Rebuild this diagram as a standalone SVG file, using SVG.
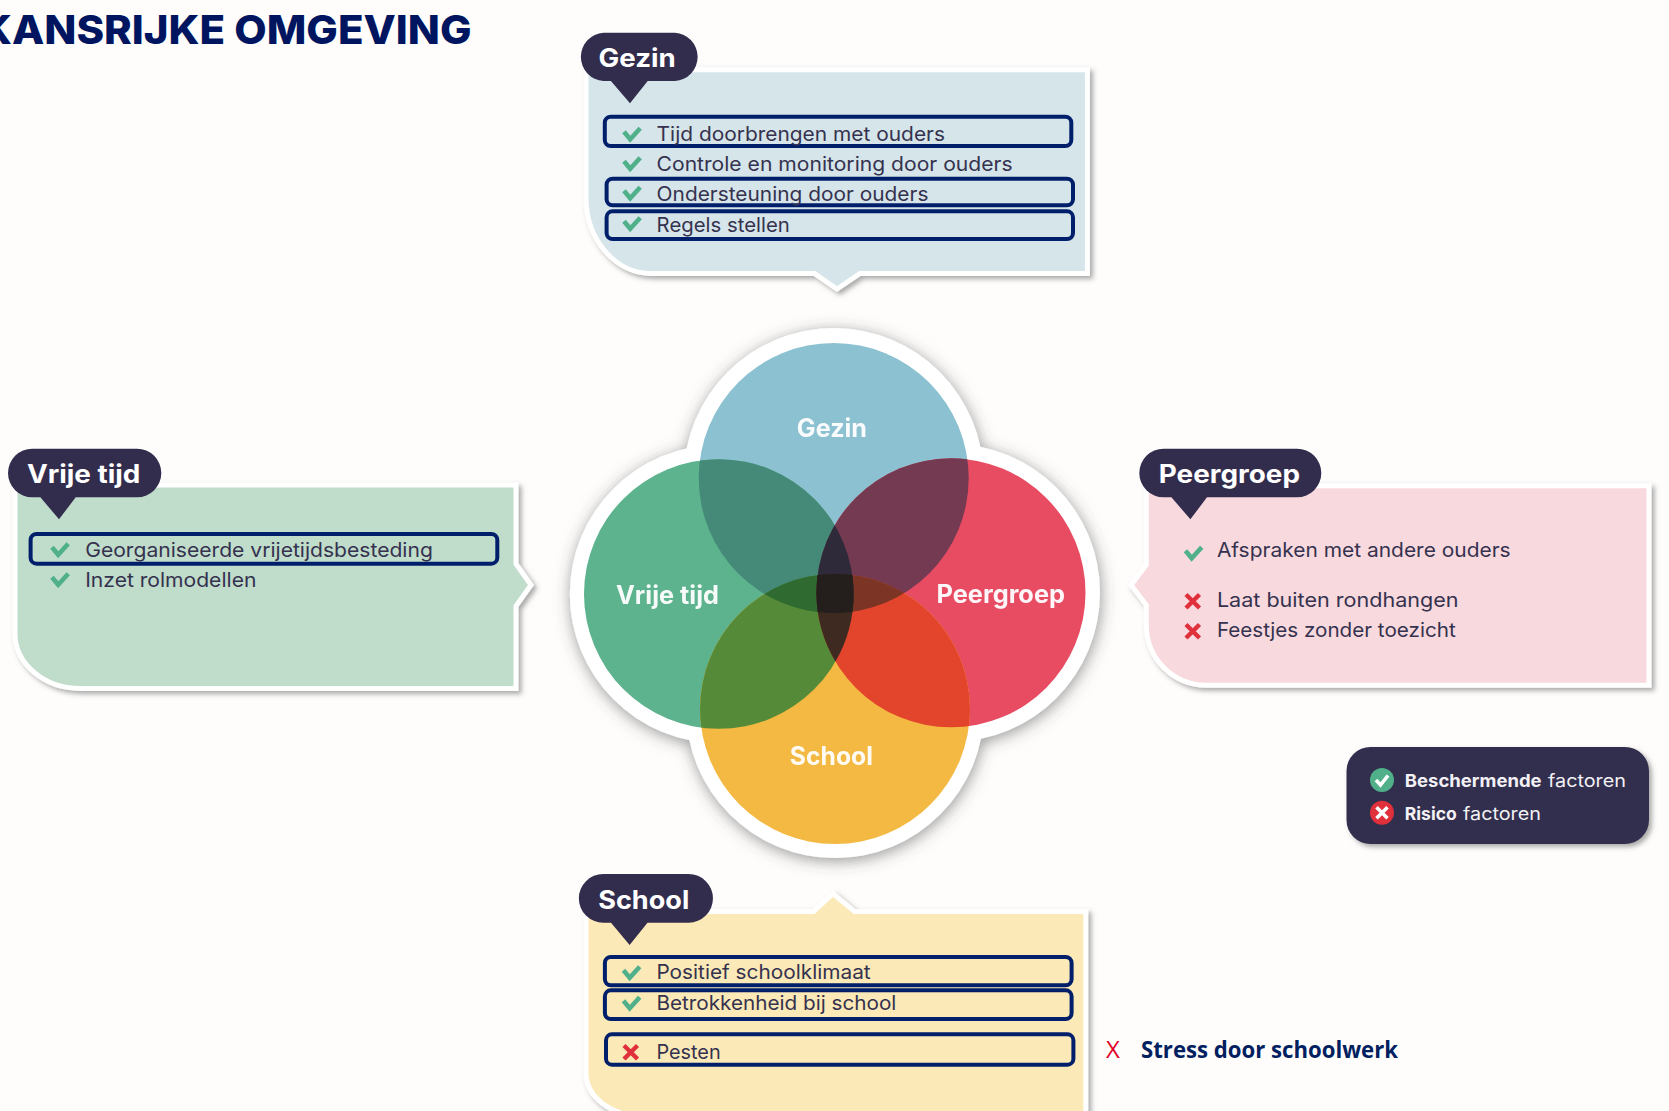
<svg xmlns="http://www.w3.org/2000/svg" width="1669" height="1111" viewBox="0 0 1669 1111">
<style>
text{font-family:Inter,"Noto Sans","Liberation Sans",sans-serif}
.panel{stroke:#fff;stroke-width:5;stroke-linejoin:miter;filter:url(#sh)}
.tag{fill:#332d4d}
.tagt{fill:#fff;font-size:25px;font-weight:700}
.row{fill:#35324f;font-size:20px;font-weight:400}
.box{fill:none;stroke:#001f6b;stroke-width:4}
.vl{fill:#fff;font-size:25px;font-weight:700;opacity:.95}
.chk{fill:none;stroke:#4fb08a;stroke-width:4.6}
.xx{fill:none;stroke:#e0303c;stroke-width:4.4}
.lg{fill:#f2f1f5;font-size:17.5px}
</style>
<defs>
<filter id="sh" x="-10%" y="-10%" width="120%" height="120%"><feDropShadow dx="3" dy="3" stdDeviation="2.8" flood-color="#555" flood-opacity=".5"/></filter>
<filter id="shc" x="-10%" y="-10%" width="120%" height="120%"><feDropShadow dx="1" dy="3" stdDeviation="8" flood-color="#444" flood-opacity=".55"/></filter>
<path id="chk" class="chk" d="M1,4.2 L7.2,11.7 L17.2,0.8"/>
<path id="xm" class="xx" d="M1.5,1.5 L15,15 M15,1.5 L1.5,15"/>
<circle id="cg" cx="833.7" cy="478" r="135"/>
<circle id="cp" cx="951" cy="592.8" r="134.5"/>
<circle id="cv" cx="718.8" cy="594" r="134.8"/>
<circle id="cs" cx="835" cy="709" r="135"/>
<clipPath id="G"><use href="#cg"/></clipPath>
<clipPath id="V"><use href="#cv"/></clipPath>
<clipPath id="P"><use href="#cp"/></clipPath>
<clipPath id="GV" clip-path="url(#G)"><use href="#cv"/></clipPath>
<clipPath id="GP" clip-path="url(#G)"><use href="#cp"/></clipPath>
<clipPath id="VP" clip-path="url(#V)"><use href="#cp"/></clipPath>
<clipPath id="GVP" clip-path="url(#GV)"><use href="#cp"/></clipPath>
</defs>
<rect width="1669" height="1111" fill="#fefdfc"/>
<text x="-19" y="43.5" font-size="40" font-weight="800" fill="#001560" textLength="490.5" lengthAdjust="spacingAndGlyphs">KANSRIJKE OMGEVING</text>

<g id="venn">
<g filter="url(#shc)" fill="#fff">
<circle cx="833.7" cy="478" r="150"/><circle cx="951" cy="592.8" r="149"/><circle cx="718.8" cy="594" r="149"/><circle cx="835" cy="709" r="149"/>
</g>
<use href="#cg" fill="#8bc1d0"/>
<use href="#cp" fill="#e74c63"/>
<use href="#cv" fill="#5cb38d"/>
<use href="#cs" fill="#f4b942"/>
<use href="#cv" clip-path="url(#G)" fill="#458a78"/>
<use href="#cp" clip-path="url(#G)" fill="#733a52"/>
<use href="#cs" clip-path="url(#V)" fill="#558a38"/>
<use href="#cs" clip-path="url(#P)" fill="#e3442c"/>
<use href="#cs" clip-path="url(#GV)" fill="#2f6a30"/>
<use href="#cs" clip-path="url(#GP)" fill="#7c3524"/>
<use href="#cp" clip-path="url(#GV)" fill="#2e2a3a"/>
<use href="#cs" clip-path="url(#VP)" fill="#3e2a20"/>
<use href="#cs" clip-path="url(#GVP)" fill="#241f1c"/>
<text class="vl" x="796.8" y="436.8" textLength="70.2" lengthAdjust="spacingAndGlyphs">Gezin</text>
<text class="vl" x="616" y="603.6" textLength="103" lengthAdjust="spacingAndGlyphs">Vrije tijd</text>
<text class="vl" x="936.5" y="602.8" textLength="128.5" lengthAdjust="spacingAndGlyphs">Peergroep</text>
<text class="vl" x="789.8" y="765" textLength="83.2" lengthAdjust="spacingAndGlyphs">School</text>
</g>

<g id="gezin">
<path class="panel" fill="#d5e5ea" d="M586,69.7 H1087.4 V273.4 H860 L837,289 L814.4,273.4 H651 A65,76 0 0 1 586,197 Z"/>
<path class="tag" d="M603.5,32.7 H675 A24.2,24.2 0 0 1 675,81 H647.7 L630,103.3 L610.9,81 H603.5 A24.2,24.2 0 0 1 603.5,32.7 Z"/>
<text class="tagt" x="598.6" y="66.7" textLength="77.2" lengthAdjust="spacingAndGlyphs">Gezin</text>
<rect class="box" x="604.8" y="116.7" width="466.5" height="29.3" rx="6"/>
<rect class="box" x="606.6" y="178.7" width="466.4" height="26.6" rx="6"/>
<rect class="box" x="606.6" y="211.3" width="466.4" height="27.7" rx="6"/>
<use href="#chk" x="623" y="127.5"/><use href="#chk" x="623" y="157"/><use href="#chk" x="623" y="186.5"/><use href="#chk" x="623" y="217"/>
<text class="row" x="656.6" y="140.7" textLength="288.4" lengthAdjust="spacingAndGlyphs">Tijd doorbrengen met ouders</text>
<text class="row" x="656.6" y="171.3" textLength="356" lengthAdjust="spacingAndGlyphs">Controle en monitoring door ouders</text>
<text class="row" x="656.6" y="201.3" textLength="271.8" lengthAdjust="spacingAndGlyphs">Ondersteuning door ouders</text>
<text class="row" x="656.6" y="231.7" textLength="133.2" lengthAdjust="spacingAndGlyphs">Regels stellen</text>
</g>

<g id="vrije-tijd">
<path class="panel" fill="#c0dccb" d="M15,485 H516 V564 L531,585 L516,606 V688.5 H80 A65,55 0 0 1 15,633 Z"/>
<path class="tag" d="M32.3,448.7 H137 A24.3,24.3 0 0 1 137,497.3 H75.7 L59,519.3 L40.4,497.3 H32.3 A24.3,24.3 0 0 1 32.3,448.7 Z"/>
<text class="tagt" x="26.9" y="482.7" textLength="113.5" lengthAdjust="spacingAndGlyphs">Vrije tijd</text>
<rect class="box" x="30.6" y="534" width="466.7" height="29.7" rx="6"/>
<use href="#chk" x="51" y="543"/><use href="#chk" x="51" y="573"/>
<text class="row" x="85.2" y="556.7" textLength="347.7" lengthAdjust="spacingAndGlyphs">Georganiseerde vrijetijdsbesteding</text>
<text class="row" x="85.2" y="586.7" textLength="171.2" lengthAdjust="spacingAndGlyphs">Inzet rolmodellen</text>
</g>

<g id="peergroep">
<path class="panel" fill="#f8d9de" d="M1146.3,485.8 H1649 V685.2 H1206 A60,60 0 0 1 1146.3,625 V605 L1131,585 L1146.3,565 Z"/>
<path class="tag" d="M1163.6,448.7 H1297 A24.3,24.3 0 0 1 1297,497.3 H1207 L1190.4,519.3 L1171.4,497.3 H1163.6 A24.3,24.3 0 0 1 1163.6,448.7 Z"/>
<text class="tagt" x="1158.8" y="482.7" textLength="141.2" lengthAdjust="spacingAndGlyphs">Peergroep</text>
<use href="#chk" x="1184.5" y="546.5"/><use href="#xm" x="1184.5" y="593"/><use href="#xm" x="1184.5" y="623"/>
<text class="row" x="1216.9" y="556.7" textLength="293.8" lengthAdjust="spacingAndGlyphs">Afspraken met andere ouders</text>
<text class="row" x="1216.9" y="607.3" textLength="241.7" lengthAdjust="spacingAndGlyphs">Laat buiten rondhangen</text>
<text class="row" x="1216.9" y="637.3" textLength="238.8" lengthAdjust="spacingAndGlyphs">Feestjes zonder toezicht</text>
</g>

<g id="school">
<path class="panel" fill="#fbe9b7" d="M586,911.6 H813.6 L833,893.5 L854.6,911.6 H1085.8 V1116 H642 A56,43 0 0 1 586,1073 Z"/>
<path class="tag" d="M603.2,874 H688.6 A24.3,24.3 0 0 1 688.6,922.7 H647.5 L629.6,945 L611,922.7 H603.2 A24.3,24.3 0 0 1 603.2,874 Z"/>
<text class="tagt" x="598.2" y="909" textLength="91.1" lengthAdjust="spacingAndGlyphs">School</text>
<rect class="box" x="604.9" y="957" width="466.7" height="28.3" rx="6"/>
<rect class="box" x="604.9" y="990.3" width="466.7" height="28.7" rx="6"/>
<rect class="box" x="606" y="1034.3" width="467.4" height="30.4" rx="6"/>
<use href="#chk" x="622.5" y="966"/><use href="#chk" x="622.5" y="996.5"/><use href="#xm" x="622.5" y="1044"/>
<text class="row" x="656.4" y="979.3" textLength="214.3" lengthAdjust="spacingAndGlyphs">Positief schoolklimaat</text>
<text class="row" x="656.4" y="1010" textLength="240" lengthAdjust="spacingAndGlyphs">Betrokkenheid bij school</text>
<text class="row" x="656.4" y="1059" textLength="64.3" lengthAdjust="spacingAndGlyphs">Pesten</text>
</g>

<g id="legend">
<rect x="1346.5" y="747" width="302.5" height="97" rx="24" fill="#332d4d" filter="url(#sh)"/>
<circle cx="1382" cy="780" r="12" fill="#4fb08a"/>
<circle cx="1382" cy="812.7" r="12" fill="#e0303c"/>
<path d="M1376,780 L1380.5,785 L1388,775.5" fill="none" stroke="#fff" stroke-width="3.6"/>
<path d="M1376.5,807.2 L1387.5,818.2 M1387.5,807.2 L1376.5,818.2" fill="none" stroke="#fff" stroke-width="3.6"/>
<text class="lg" y="787.3"><tspan x="1404.8" font-weight="700" textLength="136.8" lengthAdjust="spacingAndGlyphs">Beschermende</tspan> <tspan x="1548" textLength="78" lengthAdjust="spacingAndGlyphs">factoren</tspan></text>
<text class="lg" y="820"><tspan x="1404.8" font-weight="700" textLength="51.9" lengthAdjust="spacingAndGlyphs">Risico</tspan> <tspan x="1463" textLength="78" lengthAdjust="spacingAndGlyphs">factoren</tspan></text>
</g>

<g id="note">
<text x="1106" y="1058" font-size="24" fill="#e3002b" style="font-family:'Open Sans','Liberation Sans',sans-serif">X</text>
<text x="1141" y="1058" font-size="24" font-weight="700" fill="#002060" textLength="257" lengthAdjust="spacingAndGlyphs" style="font-family:'Open Sans','Liberation Sans',sans-serif">Stress door schoolwerk</text>
</g>
</svg>
